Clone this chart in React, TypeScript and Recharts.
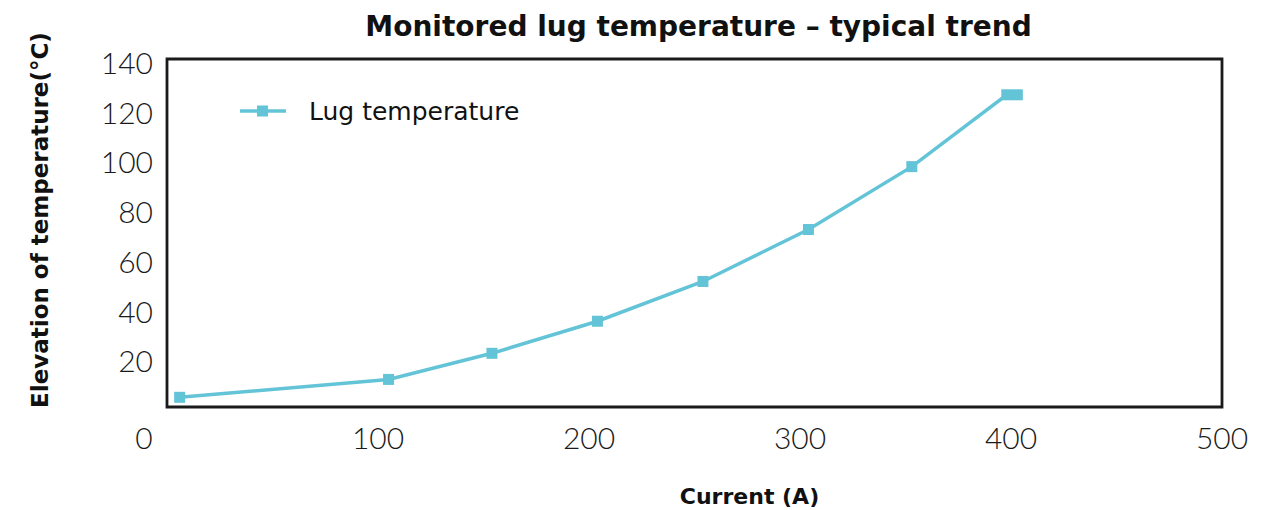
import React from 'react';
import { LineChart, Line, XAxis, YAxis, ReferenceArea } from 'recharts';

const currents = [6, 105, 154, 204, 254, 304, 353, 398, 403];
const lugTemps = [3.9, 11.1, 21.6, 34.5, 50.5, 71.4, 96.7, 125.6, 125.6];
const xTicks = [0, 100, 200, 300, 400, 500];
const yTicks = [20, 40, 60, 80, 100, 120, 140];

const data = currents.map((c, i) => ({ current: c, temp: lugTemps[i] }));

const LINE = '#63c4d7';
const TICK_FONT = 'Lato, "Noto Sans", sans-serif';
const BOLD_FONT = '"DejaVu Sans", "Noto Sans", sans-serif';

const XTick = (props: any) => {
  const { x, y, payload } = props;
  // the shared zero sits left of the corner
  const tx = payload.value === 0 ? x - 23 : x;
  return (
    <text x={tx} y={y + 34} textAnchor="middle" fontFamily={TICK_FONT} fontWeight={300} fontSize={30} fill="#1a1a1a">
      {payload.value}
    </text>
  );
};

const YTick = (props: any) => {
  const { x, y, payload } = props;
  return (
    <text x={x - 6} y={y + 15} textAnchor="end" fontFamily={TICK_FONT} fontWeight={300} fontSize={30} fill="#1a1a1a">
      {payload.value}
    </text>
  );
};

const SquareDot = (props: any) => {
  const { cx, cy } = props;
  return <rect x={cx - 5.5} y={cy - 5.5} width={11} height={11} fill={LINE} />;
};

export default function App() {
  return (
    <div style={{ position: 'absolute', left: 0, top: 0, width: 1287, height: 510, background: '#fff' }}>
      <div
        style={{
          position: 'absolute', left: 0, width: 1397, top: 10, textAlign: 'center',
          fontFamily: BOLD_FONT, fontWeight: 700, fontSize: 28, lineHeight: '34px', color: '#111', zIndex: 2,
        }}
      >
        Monitored lug temperature – typical trend
      </div>
      <div
        style={{
          position: 'absolute', left: 0, width: 1499, top: 482, textAlign: 'center',
          fontFamily: BOLD_FONT, fontWeight: 700, fontSize: 22, lineHeight: '30px', color: '#111', zIndex: 2,
        }}
      >
        Current (A)
      </div>
      <div
        style={{
          position: 'absolute', left: 40 - 250, top: 220 - 15, width: 500, height: 30, textAlign: 'center',
          transform: 'rotate(-90deg)', fontFamily: BOLD_FONT, fontWeight: 700, fontSize: 23, lineHeight: '30px',
          color: '#111', zIndex: 2, whiteSpace: 'nowrap',
        }}
      >
        Elevation of temperature(°C)
      </div>
      <div style={{ position: 'absolute', left: 238, top: 97, display: 'flex', alignItems: 'center', height: 28, zIndex: 2 }}>
        <svg width={50} height={14}>
          <line x1={2} y1={7} x2={48} y2={7} stroke={LINE} strokeWidth={3.5} />
          <rect x={19} y={1.5} width={11} height={11} fill={LINE} />
        </svg>
        <span style={{ marginLeft: 21, fontFamily: '"DejaVu Sans", sans-serif', fontSize: 25, color: '#111' }}>
          Lug temperature
        </span>
      </div>
      <LineChart width={1287} height={510} data={data} margin={{ top: 59, right: 65, left: 0, bottom: 0 }}>
        <XAxis
          dataKey="current"
          type="number"
          domain={[0, 500]}
          ticks={xTicks}
          axisLine={false}
          tickLine={false}
          tick={<XTick />}
          height={103}
        />
        <YAxis
          type="number"
          domain={[0, 140]}
          ticks={yTicks}
          axisLine={false}
          tickLine={false}
          tick={<YTick />}
          width={167}
        />
        <ReferenceArea x1={0} x2={500} y1={0} y2={140} fill="none" stroke="#1a1a1a" strokeWidth={2.8} ifOverflow="visible" />
        <Line
          dataKey="temp"
          stroke={LINE}
          strokeWidth={3.5}
          dot={<SquareDot />}
          activeDot={false}
          isAnimationActive={false}
        />
      </LineChart>
    </div>
  );
}
